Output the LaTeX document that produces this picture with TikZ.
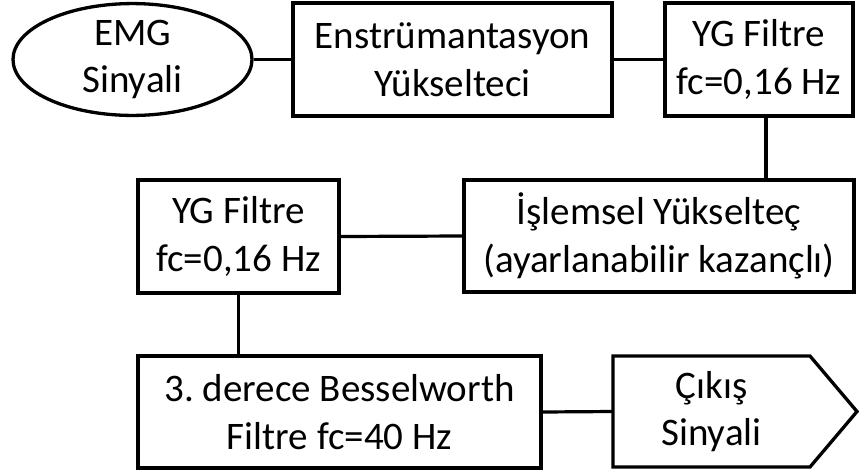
\documentclass[tikz,border=0pt]{standalone}
\usepackage{fontspec}
\setmainfont{Carlito}
\frenchspacing
\usetikzlibrary{shapes.geometric}
\begin{document}
\begin{tikzpicture}[x=1pt,y=-1pt,
  every node/.style={font=\fontsize{39}{47.5}\selectfont, align=center, inner sep=0pt},
  blk/.style={draw, line width=3.3pt, rectangle},
  ell/.style={draw, line width=3.3pt, ellipse},
  conn/.style={line width=3.2pt}]
\useasboundingbox (0,0) rectangle (859,472);
\node[ell, minimum width=239pt, minimum height=101pt] (emg) at (132.5,59.5) {EMG\\Sinyali};
\node[blk, minimum width=319pt, minimum height=113pt] (amp) at (452.5,59.5) {Enstrümantasyon\\Yükselteci};
\node[blk, minimum width=188pt, minimum height=113pt] (yga) at (759,59.5) {YG Filtre\\fc=0,16 Hz};
\node[blk, minimum width=390pt, minimum height=112pt] (isl) at (659,236) {İşlemsel Yükselteç\\(ayarlanabilir kazançlı)};
\node[blk, minimum width=201pt, minimum height=113pt] (ygb) at (238.5,236.5) {YG Filtre\\fc=0,16 Hz};
\node[blk, minimum width=403pt, minimum height=112pt] (bes) at (339.5,412) {3.\ derece Besselworth\\Filtre fc=40 Hz};
\node[minimum width=197pt, minimum height=111pt] (out) at (711.5,411.5) {Çıkış\\Sinyali};
\draw[line width=3.3pt, line join=miter] (613,356) -- (810,356) -- (857,411.5) -- (810,467) -- (613,467) -- cycle;
\draw[conn] (emg.east) -- (amp.west);
\draw[conn] (amp.east) -- (yga.west);
\draw[conn] ([xshift=7pt]yga.south) -- ([xshift=7pt]yga.south |- isl.north);
\draw[conn] (isl.west) -- (ygb.east);
\draw[conn] (ygb.south) -- (ygb.south |- bes.north);
\draw[conn] (bes.east) -- (out.west);
\end{tikzpicture}
\end{document}
